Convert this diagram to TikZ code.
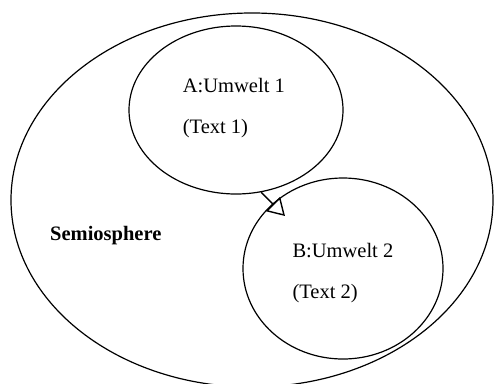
\documentclass[tikz,border=0pt]{standalone}
\usepackage{fontspec}
\setmainfont{Liberation Serif}
\usetikzlibrary{shapes.geometric,arrows.meta}
\begin{document}
\begin{tikzpicture}[x=1pt,y=-1pt,
  oval/.style={draw,ellipse,line width=1.2pt,inner sep=0pt},
  lbl/.style={anchor=base west,inner sep=0pt,font=\fontsize{20.5}{24}\selectfont},
  flow/.style={line width=1.4pt,-{Triangle[open,length=17pt,width=20pt,line width=1.4pt]}}]
\useasboundingbox (0,0) rectangle (494,383);
\clip (0,0) rectangle (494,383);
\node[oval,minimum width=482pt,minimum height=374pt] (S) at (252,200) {};
\node[oval,minimum width=214pt,minimum height=168pt] (A) at (236,110) {};
\node[oval,minimum width=200pt,minimum height=181pt] (B) at (343,268.5) {};
\node[lbl] (a1) at (182.7,92) {A:Umwelt 1};
\node[lbl] (a2) at (182.7,133) {(Text 1)};
\node[lbl] (b1) at (292.3,257.7) {B:Umwelt 2};
\node[lbl] (b2) at (292.3,298) {(Text 2)};
\node[lbl,font=\fontsize{20.5}{24}\selectfont\bfseries] (s1) at (50,240) {Semiosphere};
\coordinate (tip) at (285,216);
\draw[flow] (A.-73.7) -- (tip);
\end{tikzpicture}
\end{document}
